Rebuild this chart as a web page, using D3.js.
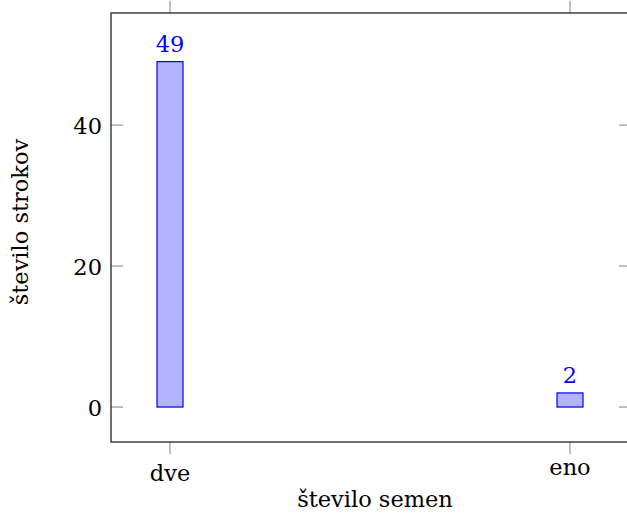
<!DOCTYPE html>
<html>
<head>
<meta charset="utf-8">
<title>število strokov</title>
<script src="https://cdn.jsdelivr.net/npm/d3@7"></script>
<style>
  body { margin: 0; background: #fff; }
</style>
</head>
<body>
<div id="chart"></div>
<script>
  // data
  var categories = ['dve', 'eno'];
  var counts = [49, 2];
  var yTicks = [0, 20, 40];

  var width = 627, height = 513;
  var box = { left: 111, top: 13, right: 631, bottom: 442 };
  var fs = 22.5;
  var font = 'DejaVu Serif';

  var svg = d3.select('#chart')
    .append('svg')
    .attr('width', width)
    .attr('height', height)
    .attr('font-family', font);

  var x = d3.scalePoint()
    .domain(categories)
    .range([box.left + 59, box.left + 459]);

  var y = d3.scaleLinear()
    .domain([-4.96, 55.9])
    .range([box.bottom, box.top]);

  var barW = 26, tick = 12;

  // bars
  svg.selectAll('rect.bar')
    .data(counts)
    .enter()
    .append('rect')
    .attr('class', 'bar')
    .attr('x', function(d, i) { return x(categories[i]) - barW / 2; })
    .attr('y', function(d) { return y(d); })
    .attr('width', barW)
    .attr('height', function(d) { return y(0) - y(d); })
    .attr('fill', '#b3b3ff')
    .attr('stroke', '#0000ff')
    .attr('stroke-width', 1.2);

  // value labels
  svg.selectAll('text.val')
    .data(counts)
    .enter()
    .append('text')
    .attr('class', 'val')
    .attr('x', function(d, i) { return x(categories[i]); })
    .attr('y', function(d) { return y(d) - 9.5; })
    .attr('text-anchor', 'middle')
    .attr('font-size', fs)
    .attr('fill', '#0000ff')
    .text(function(d) { return d; });

  // y ticks, both sides pointing in
  var g = svg.append('g');
  yTicks.forEach(function(t) {
    g.append('line')
      .attr('x1', box.left).attr('x2', box.left + tick)
      .attr('y1', y(t)).attr('y2', y(t))
      .attr('stroke', '#808080').attr('stroke-width', 1);
    g.append('line')
      .attr('x1', box.right).attr('x2', box.right - tick)
      .attr('y1', y(t)).attr('y2', y(t))
      .attr('stroke', '#808080').attr('stroke-width', 1);
    g.append('text')
      .attr('x', box.left - 9)
      .attr('y', y(t) + 8.5)
      .attr('text-anchor', 'end')
      .attr('font-size', fs)
      .text(t);
  });

  // x ticks, top and bottom pointing out
  categories.forEach(function(c) {
    g.append('line')
      .attr('x1', x(c)).attr('x2', x(c))
      .attr('y1', box.top).attr('y2', box.top - tick)
      .attr('stroke', '#808080').attr('stroke-width', 1);
    g.append('line')
      .attr('x1', x(c)).attr('x2', x(c))
      .attr('y1', box.bottom).attr('y2', box.bottom + tick)
      .attr('stroke', '#808080').attr('stroke-width', 1);
    // labels hang from their top like in pgfplots
    var ink = /[bdfhklt]/.test(c) ? 17.5 : 12;
    g.append('text')
      .attr('x', x(c))
      .attr('y', box.bottom + 21 + ink)
      .attr('text-anchor', 'middle')
      .attr('font-size', fs)
      .text(c);
  });

  // axis frame
  svg.append('rect')
    .attr('x', box.left)
    .attr('y', box.top)
    .attr('width', box.right - box.left)
    .attr('height', box.bottom - box.top)
    .attr('fill', 'none')
    .attr('stroke', '#222')
    .attr('stroke-width', 1.3);

  // axis titles
  svg.append('text')
    .attr('x', 375)
    .attr('y', 507)
    .attr('text-anchor', 'middle')
    .attr('font-size', fs)
    .text('število semen');

  svg.append('text')
    .attr('transform', 'translate(28,222) rotate(-90)')
    .attr('text-anchor', 'middle')
    .attr('font-size', fs)
    .text('število strokov');
</script>
</body>
</html>
